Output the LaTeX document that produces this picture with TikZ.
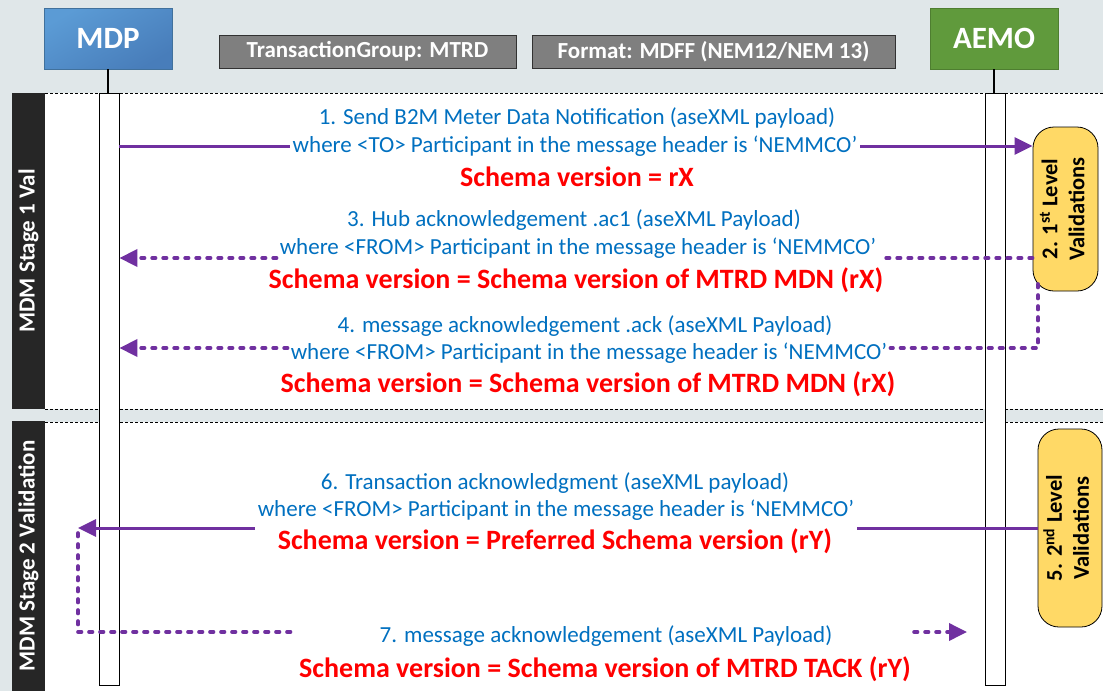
\documentclass[tikz,border=0pt]{standalone}
\usepackage{fontspec}
\setmainfont{Carlito}
\usetikzlibrary{arrows.meta,calc}
\definecolor{bgc}{RGB}{224,231,233}
\definecolor{mdplight}{RGB}{91,155,213}
\definecolor{mdpdark}{RGB}{72,125,186}
\definecolor{mdpedge}{RGB}{65,113,156}
\definecolor{aemogreen}{RGB}{96,154,60}
\definecolor{aemoedge}{RGB}{78,126,48}
\definecolor{hdrgrey}{RGB}{127,127,127}
\definecolor{hdredge}{RGB}{50,50,50}
\definecolor{txtblue}{RGB}{0,112,192}
\definecolor{txtred}{RGB}{255,0,0}
\definecolor{arrpurple}{RGB}{112,48,160}
\definecolor{valyellow}{RGB}{255,217,102}
\definecolor{stagebar}{RGB}{38,38,38}
\tikzset{
  actor/.style={line width=0.8pt, minimum width=128pt, minimum height=61pt, inner sep=0pt,
    text=white, font=\fontsize{31}{36}\selectfont\bfseries},
  hdr/.style={draw=hdredge, fill=hdrgrey, line width=0.8pt, minimum height=33pt, inner sep=0pt,
    text=white, font=\fontsize{23}{27}\selectfont\bfseries},
  stagebox/.style={fill=stagebar, minimum width=33pt, inner sep=0pt, text=white,
    font=\fontsize{23}{27}\selectfont\bfseries},
  actbar/.style={draw=black, fill=white, line width=0.8pt, minimum width=20pt, inner sep=0pt},
  lifetick/.style={draw=black, line width=1.5pt},
  frameline/.style={draw=black, line width=0.6pt, dash pattern=on 3pt off 2pt},
  valbox/.style={draw=black, fill=valyellow, line width=0.8pt, rounded corners=21pt, inner sep=0pt,
    font=\fontsize{22.5}{27}\selectfont\bfseries},
  bluetxt/.style={text=txtblue, font=\fontsize{23}{28}\selectfont, inner xsep=3pt, inner ysep=1pt},
  redtxt/.style={text=txtred, font=\fontsize{28}{33}\selectfont\bfseries, inner xsep=3pt, inner ysep=1pt},
  msg/.style={draw=arrpurple, line width=3pt},
  msgdot/.style={draw=arrpurple, line width=3.6pt, line cap=round, dash pattern=on 3.5pt off 7.5pt},
  headtip/.style={-{Triangle[length=18pt,width=17pt]}}
}
\begin{document}
\begin{tikzpicture}[x=1pt,y=-1pt]
\useasboundingbox (0,0) rectangle (1103,691);
\fill[bgc] (0,0) rectangle (1103,691);
% stage areas
\fill[white] (45,93) rectangle (1103,409);
\fill[white] (45,422) rectangle (1103,691);
\draw[frameline] (45,93) -- (1103,93);
\draw[frameline] (45,409) -- (1103,409);
\draw[frameline] (45,422) -- (1103,422);
\node[stagebox, minimum height=316pt] (st1) at (28.5,251) {\rotatebox{90}{MDM Stage 1 Val}};
\node[stagebox, minimum height=270pt] (st2) at (28.5,556) {\rotatebox{90}{MDM Stage 2 Validation}};
% header boxes
\node[actor, draw=mdpedge, top color=mdplight, bottom color=mdpdark, shading angle=30] (mdp) at (108,38.5) {MDP};
\node[actor, draw=aemoedge, fill=aemogreen] (aemo) at (994,38.5) {AEMO};
\node[hdr, minimum width=297pt] (tg) at (367.5,51.5) {TransactionGroup: MTRD};
\node[hdr, minimum width=363pt] (fmt) at (713.5,51.5) {Format: MDFF (NEM12/NEM 13)};
% activation bars
\node[actbar, minimum height=592pt] (mdpbar) at (109,389) {};
\node[actbar, minimum height=592pt] (aemobar) at (995,389) {};
\draw[lifetick] (mdp.south) -- (mdp.south |- mdpbar.north);
\draw[lifetick] (aemo.south) -- (aemo.south |- aemobar.north);
% validation boxes
\node[valbox, minimum width=65pt, minimum height=164pt] (val1) at (1065.5,209)
  {\rotatebox{90}{\begin{tabular}{@{}c@{}}2. 1\textsuperscript{st} Level\\Validations\end{tabular}}};
\node[valbox, minimum width=64pt, minimum height=198pt] (val2) at (1070,528)
  {\rotatebox{90}{\begin{tabular}{@{}c@{}}5. 2\textsuperscript{nd} Level\\Validations\end{tabular}}};
% texts
\node[bluetxt] (t1a) at (577,118) {1. Send B2M Meter Data Notification (aseXML payload)};
\node[bluetxt] (t1b) at (575,146) {where <TO> Participant in the message header is ‘NEMMCO’};
\node[redtxt] (t1c) at (577,177) {Schema version = rX};
\node[bluetxt] (t3a) at (574,220) {3. Hub acknowledgement .ac1 (aseXML Payload)};
\node[bluetxt] (t3b) at (578,248) {where <FROM> Participant in the message header is ‘NEMMCO’};
\node[redtxt] (t3c) at (576,280) {Schema version = Schema version of MTRD MDN (rX)};
\node[bluetxt] (t4a) at (585,326) {4. message acknowledgement .ack (aseXML Payload)};
\node[bluetxt] (t4b) at (589,353) {where <FROM> Participant in the message header is ‘NEMMCO’};
\node[redtxt] (t4c) at (588,384) {Schema version = Schema version of MTRD MDN (rX)};
\node[bluetxt] (t6a) at (555,483) {6. Transaction acknowledgment (aseXML payload)};
\node[bluetxt] (t6b) at (556,510) {where <FROM> Participant in the message header is ‘NEMMCO’};
\node[redtxt] (t6c) at (555,541) {Schema version = Preferred Schema version (rY)};
\node[bluetxt] (t7a) at (606,636) {7. message acknowledgement (aseXML Payload)};
\node[redtxt] (t7c) at (605,669) {Schema version = Schema version of MTRD TACK (rY)};
% connectors
\coordinate (a4s) at (1038,284);
\coordinate (c6) at (78,528);
\coordinate (c7s) at (78,533);
\coordinate (c7e) at (967,632);
\draw[msg] (mdpbar.east |- t1b) -- (t1b.west);
\draw[msg, headtip] (t1b.east) -- (val1.west |- t1b);
\draw[msgdot] (val1.west |- 0,258) -- (t3b.east |- 0,258);
\draw[msgdot, headtip] (t3b.west |- 0,258) -- (mdpbar.east |- 0,258);
\draw[msgdot] (a4s) |- (t4b.east |- 0,348);
\draw[msgdot, headtip] (t4b.west |- 0,348) -- (mdpbar.east |- 0,348);
\draw[msg] (val2.west |- 0,528) -- (t6b.east |- 0,528);
\draw[msg, headtip] (t6b.west |- 0,528) -- (c6);
\draw[msgdot] (c7s) |- (t7c.west |- 0,632);
\draw[msgdot, headtip] (t7c.east |- 0,632) -- (c7e);
\end{tikzpicture}
\end{document}
